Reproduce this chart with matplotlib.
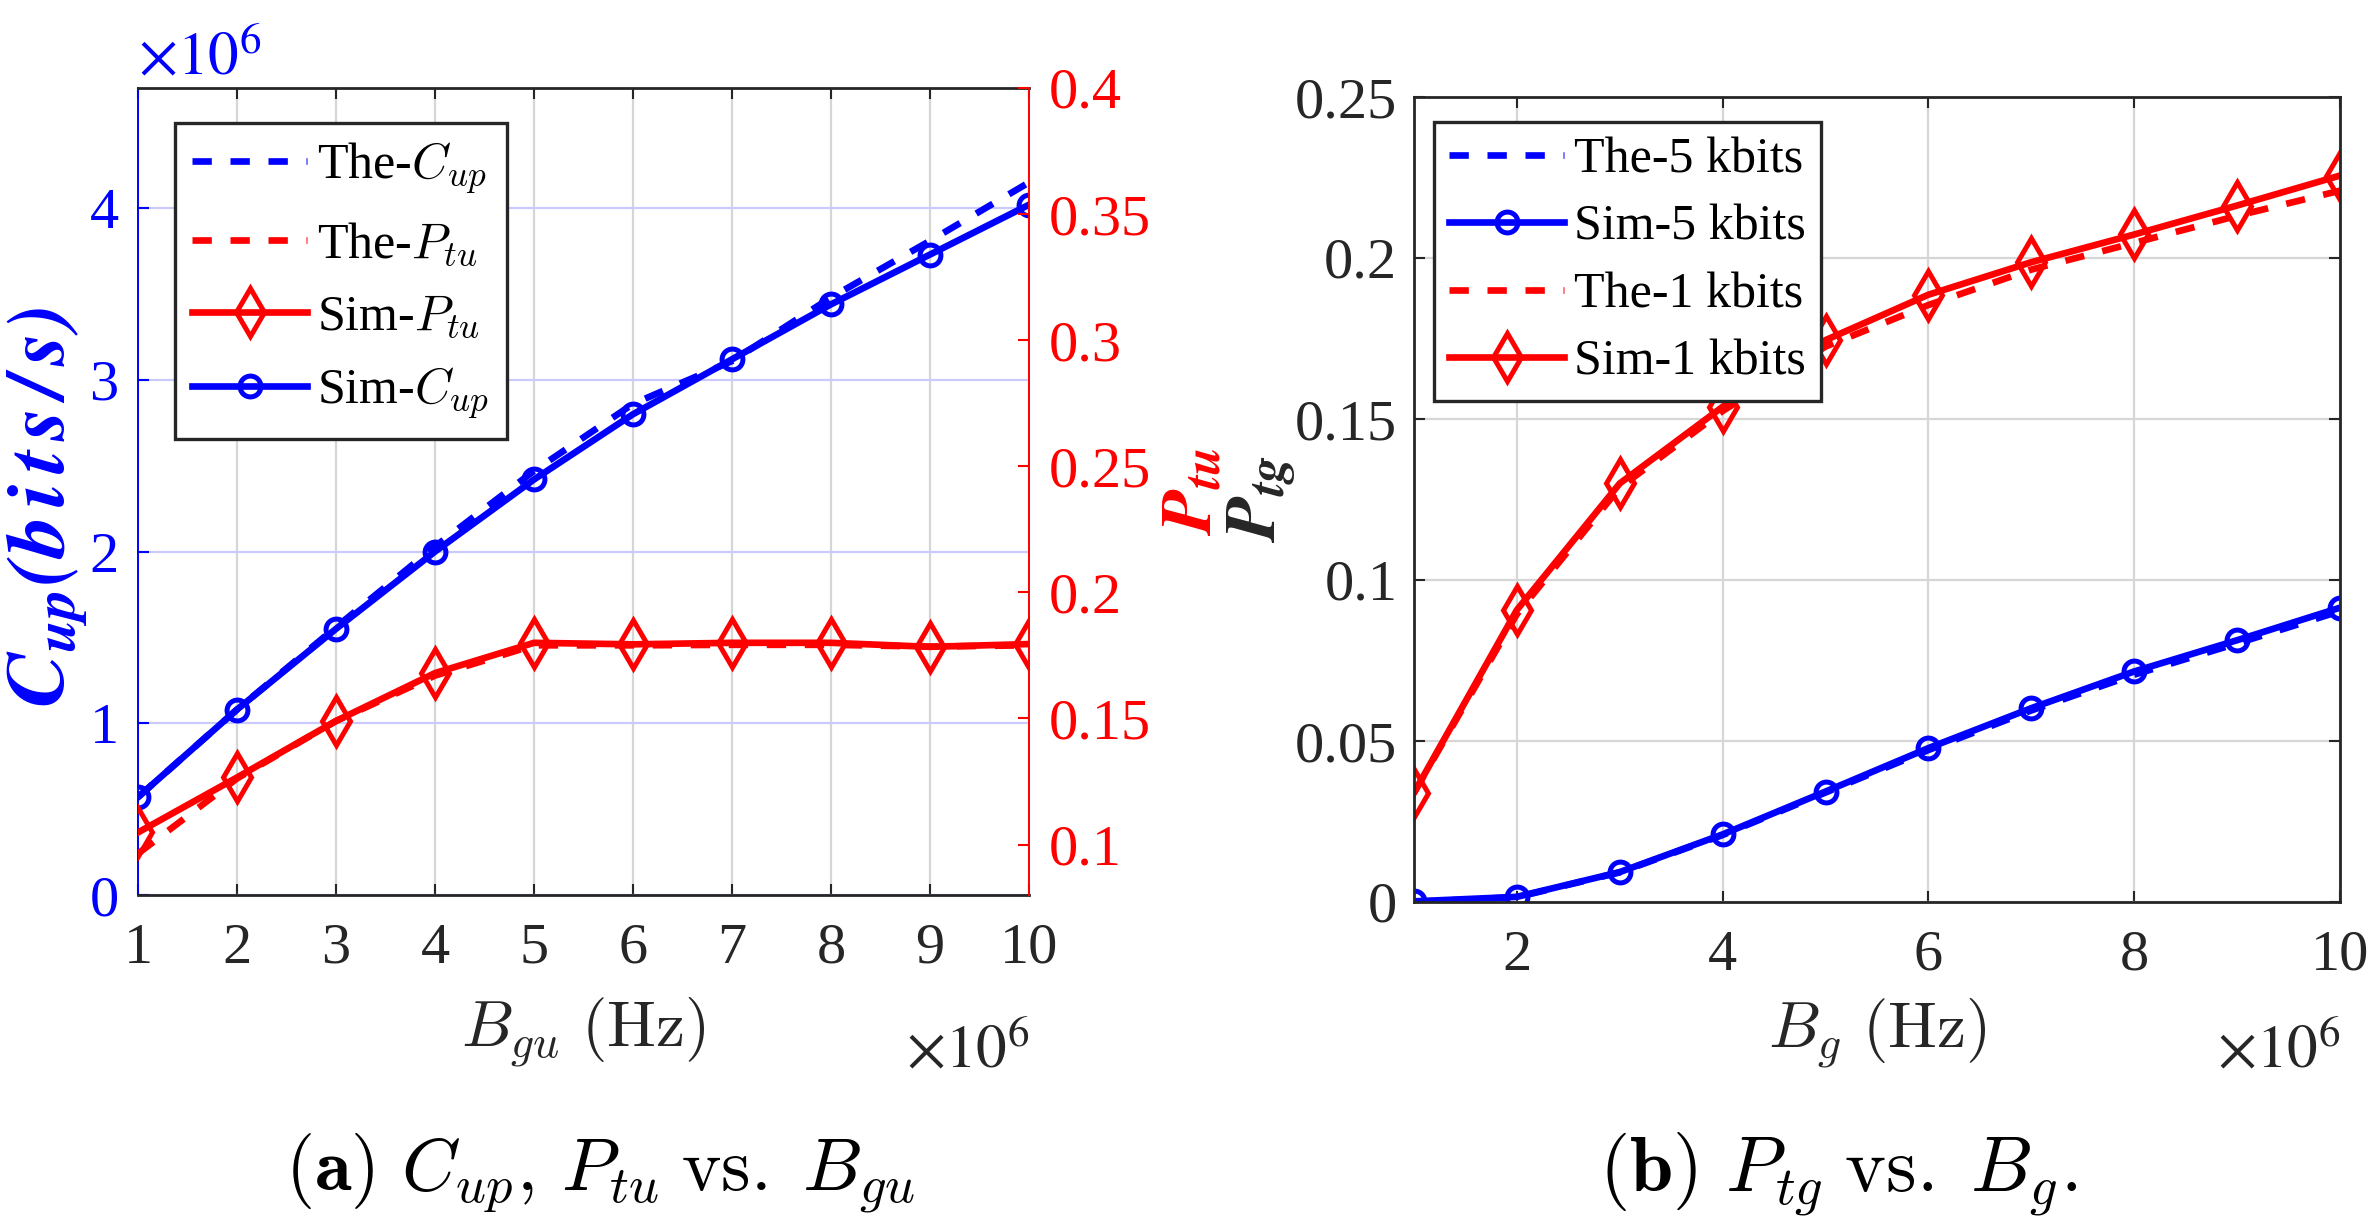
import matplotlib
matplotlib.use("Agg")
import matplotlib.pyplot as plt

plt.rcParams['font.family'] = ['Liberation Serif', 'DejaVu Serif']
plt.rcParams['mathtext.fontset'] = 'stix'

# bandwidth values in units of 1e6 Hz
bgu = [1, 2, 3, 4, 5, 6, 7, 8, 9, 10]
cup_the = [0.57, 1.08, 1.56, 2.03, 2.47, 2.86, 3.11, 3.48, 3.81, 4.15]  # x1e6 bits/s
cup_sim = [0.57, 1.08, 1.55, 2.00, 2.42, 2.80, 3.12, 3.44, 3.73, 4.02]
ptu_the = [0.0964, 0.1262, 0.1490, 0.1670, 0.1790, 0.1790, 0.1792, 0.1792, 0.1785, 0.1790]
ptu_sim = [0.1048, 0.1266, 0.1490, 0.1680, 0.1800, 0.1794, 0.1800, 0.1800, 0.1784, 0.1795]

bg = [1, 2, 3, 4, 5, 6, 7, 8, 9, 10]
ptg_the_5k = [0.0000, 0.0015, 0.0092, 0.0208, 0.0340, 0.0472, 0.0595, 0.0706, 0.0803, 0.0903]
ptg_sim_5k = [0.0002, 0.0016, 0.0093, 0.0210, 0.0343, 0.0478, 0.0602, 0.0716, 0.0813, 0.0914]
ptg_the_1k = [0.0339, 0.0894, 0.1287, 0.1525, 0.1725, 0.1854, 0.1964, 0.2047, 0.2131, 0.2209]
ptg_sim_1k = [0.0339, 0.0907, 0.1300, 0.1538, 0.1745, 0.1886, 0.1987, 0.2073, 0.2163, 0.2256]

W, H = 2377, 1229
dark = '#262626'
lw = 4.8
dash = (2.9, 2.8)
circ = dict(marker='o', ms=15, mew=3.6, mfc='none')
diam = dict(marker='d', ms=24, mew=3.6, mfc='none')
tick_fs = 42
leg_fs = 36

fig = plt.figure(figsize=(W / 100, H / 100), dpi=100)

# ---------------- (a) ----------------
ax = fig.add_axes([138 / W, 1 - 895 / H, 891 / W, 807 / H])
ax2 = ax.twinx()

l1, = ax.plot(bgu, cup_the, color='blue', lw=lw, ls='--', dashes=dash)
l4, = ax.plot(bgu, cup_sim, color='blue', lw=lw, **circ)
l2, = ax2.plot(bgu, ptu_the, color='red', lw=lw, ls='--', dashes=dash)
l3, = ax2.plot(bgu, ptu_sim, color='red', lw=lw, **diam)

ax.set_xlim(1, 10)
ax.set_ylim(0, 4.7)
ax2.set_ylim(0.08, 0.4)
ax.set_xticks(range(1, 11))
ax.set_yticks([0, 1, 2, 3, 4])
ax2.set_yticks([0.1, 0.15, 0.2, 0.25, 0.3, 0.35, 0.4])
ax2.set_yticklabels(['0.1', '0.15', '0.2', '0.25', '0.3', '0.35', '0.4'])

ax.set_axisbelow(True)
ax.xaxis.grid(True, color='#d6d6d6', lw=1.6)
ax.yaxis.grid(True, color='#cacaff', lw=1.6)

ax.tick_params(axis='x', direction='in', top=True, length=8, width=1.5,
               colors=dark, labelsize=tick_fs, pad=20)
ax.tick_params(axis='y', direction='in', length=8, width=1.5,
               colors='blue', labelsize=tick_fs, pad=14)
ax2.tick_params(axis='y', direction='in', length=8, width=1.5,
                colors='red', labelsize=tick_fs, pad=14)
for s in ['top', 'bottom']:
    ax.spines[s].set_color(dark)
    ax.spines[s].set_linewidth(2)
ax.spines['left'].set_color('blue')
ax.spines['left'].set_linewidth(1.4)
ax.spines['right'].set_visible(False)
for s in ['top', 'bottom', 'left']:
    ax2.spines[s].set_visible(False)
ax2.spines['right'].set_color('red')
ax2.spines['right'].set_linewidth(1.4)

ax.set_ylabel(r'$\mathbfit{C_{up}(b\,i\,t\,s\,/\,s)}$', color='blue', fontsize=60)
ax.yaxis.label.set_verticalalignment('center')
ax.yaxis.set_label_coords(-0.102, 0.48)
ax2.set_ylabel(r'$\mathbfit{P_{tu}}$', color='red', fontsize=52)
ax2.yaxis.label.set_verticalalignment('center')
ax2.yaxis.set_label_coords(1.185, 0.5)
ax.set_xlabel(r'$B_{gu}\ \mathrm{(Hz)}$', fontsize=47, color=dark, math_fontfamily='cm')
ax.xaxis.label.set_verticalalignment('baseline')
ax.xaxis.set_label_coords(0.5, -0.188)
ax.text(0.0, 1.016, r'$\times10^{6}$', transform=ax.transAxes, color='blue',
        fontsize=44, ha='left', va='baseline')
ax.text(1.0, -0.214, r'$\times10^{6}$', transform=ax.transAxes, color=dark,
        fontsize=44, ha='right', va='baseline')

leg = ax2.legend([l1, l2, l3, l4],
                 [r'The-$C_{up}$', r'The-$P_{tu}$', r'Sim-$P_{tu}$', r'Sim-$C_{up}$'],
                 loc='upper left', bbox_to_anchor=(0.0415, 0.9566), borderaxespad=0,
                 fontsize=leg_fs, fancybox=False, framealpha=1, edgecolor=dark,
                 handlelength=2.3, handletextpad=0.2, labelspacing=0.5,
                 borderpad=0.35)
leg.get_frame().set_linewidth(2.4)
for t in leg.get_texts():
    t.set_math_fontfamily('cm')

# ---------------- (b) ----------------
bx = fig.add_axes([1414 / W, 1 - 902 / H, 926 / W, 805 / H])
m1, = bx.plot(bg, ptg_the_5k, color='blue', lw=lw, ls='--', dashes=dash)
m2, = bx.plot(bg, ptg_sim_5k, color='blue', lw=lw, **circ)
m3, = bx.plot(bg, ptg_the_1k, color='red', lw=lw, ls='--', dashes=dash)
m4, = bx.plot(bg, ptg_sim_1k, color='red', lw=lw, **diam)

bx.set_xlim(1, 10)
bx.set_ylim(0, 0.25)
bx.set_xticks([2, 4, 6, 8, 10])
bx.set_yticks([0, 0.05, 0.1, 0.15, 0.2, 0.25])
bx.set_yticklabels(['0', '0.05', '0.1', '0.15', '0.2', '0.25'])
bx.set_axisbelow(True)
bx.grid(True, color='#d6d6d6', lw=1.6)
bx.tick_params(axis='both', direction='in', top=True, right=True, length=8,
               width=1.5, colors=dark, labelsize=tick_fs)
bx.tick_params(axis='x', pad=20)
bx.tick_params(axis='y', pad=12)
for s in bx.spines.values():
    s.set_color(dark)
    s.set_linewidth(2)

bx.set_ylabel(r'$\mathbfit{P_{tg}}$', color=dark, fontsize=52)
bx.yaxis.label.set_verticalalignment('center')
bx.yaxis.set_label_coords(-0.164, 0.5)
bx.set_xlabel(r'$B_{g}\ \mathrm{(Hz)}$', fontsize=47, color=dark, math_fontfamily='cm')
bx.xaxis.label.set_verticalalignment('baseline')
bx.xaxis.set_label_coords(0.5, -0.180)
bx.text(1.0, -0.206, r'$\times10^{6}$', transform=bx.transAxes, color=dark,
        fontsize=44, ha='right', va='baseline')

leg2 = bx.legend([m1, m2, m3, m4],
                 ['The-5 kbits', 'Sim-5 kbits', 'The-1 kbits', 'Sim-1 kbits'],
                 loc='upper left', bbox_to_anchor=(0.0216, 0.969), borderaxespad=0,
                 fontsize=leg_fs, fancybox=False, framealpha=1, edgecolor=dark,
                 handlelength=2.3, handletextpad=0.2, labelspacing=0.42,
                 borderpad=0.3)
leg2.get_frame().set_linewidth(2.4)

# captions
fig.text(600 / W, 1 - 1191 / H, r'$(\mathbf{a})\ C_{up},\,P_{tu}\;\mathrm{vs.}\;B_{gu}$',
         ha='center', va='baseline', fontsize=54, math_fontfamily='cm')
fig.text(1838 / W, 1 - 1191 / H, r'$(\mathbf{b})\ P_{tg}\;\mathrm{vs.}\;B_{g}.$',
         ha='center', va='baseline', fontsize=56, math_fontfamily='cm')

fig.savefig('out.png', dpi=100)
